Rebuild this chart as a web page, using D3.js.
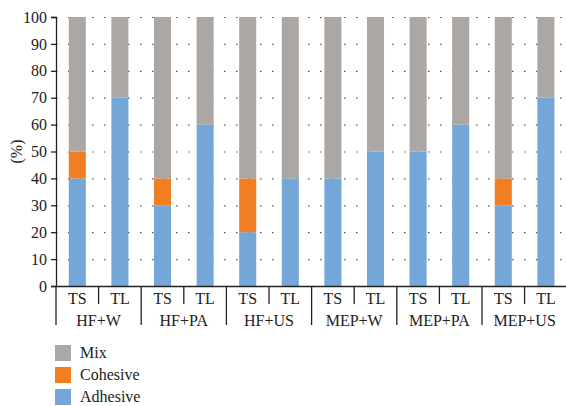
<!DOCTYPE html>
<html><head><meta charset="utf-8">
<script src="https://cdn.jsdelivr.net/npm/d3@7"></script>
<style>body{margin:0;background:#fff}svg{display:block}text{font-family:"Liberation Serif","DejaVu Serif",serif;fill:#222}</style>
</head><body><svg id="c" width="566" height="406"></svg>
<script>
const groups = ["HF+W","HF+PA","HF+US","MEP+W","MEP+PA","MEP+US"];
const subs = ["TS","TL"];
const adhesive = [40,70,30,60,20,40,40,50,50,60,30,70];
const cohesive = [10,0,10,0,20,0,0,0,0,0,10,0];
const mix      = [50,30,60,40,60,60,60,50,50,40,60,30];
const seriesNames = ["Adhesive","Cohesive","Mix"];
const colors = {Adhesive:"#74a6d7",Cohesive:"#ef7f22",Mix:"#aba7a5"};
const yTicks = [0,10,20,30,40,50,60,70,80,90,100];

const svg = d3.select("#c");
const m = {l:56, r:566, t:17, b:286};
const cats = [];
groups.forEach(g=>subs.forEach(s=>cats.push(g+"|"+s)));
const data = cats.map((c,i)=>({cat:c, Adhesive:adhesive[i], Cohesive:cohesive[i], Mix:mix[i]}));
const x = d3.scaleBand().domain(cats).range([m.l, m.l+12*42.6]).paddingInner(0.6).paddingOuter(0.3);
const y = d3.scaleLinear().domain([0,100]).range([m.b, m.t]);
const FS = 16;

// grid
svg.append("g").selectAll("line").data(yTicks.filter(d=>d>0)).join("line")
  .attr("x1",m.l).attr("x2",m.r).attr("y1",d=>y(d)+0.5).attr("y2",d=>y(d)+0.5)
  .attr("stroke","#555").attr("stroke-width",1.2).attr("stroke-dasharray","1.5,10.5");

const stack = d3.stack().keys(seriesNames)(data);
svg.append("g").selectAll("g").data(stack).join("g").attr("fill",d=>colors[d.key])
  .selectAll("rect").data(d=>d).join("rect")
  .attr("x",d=>x(d.data.cat)).attr("width",x.bandwidth())
  .attr("y",d=>y(d[1])).attr("height",d=>y(d[0])-y(d[1]));

// y axis
const ya = svg.append("g").attr("transform",`translate(${m.l},0)`)
  .call(d3.axisLeft(y).tickValues(yTicks).tickSize(5).tickPadding(4));
ya.select(".domain").attr("stroke","#222").attr("stroke-width",1.3);
ya.selectAll(".tick line").attr("stroke","#222").attr("stroke-width",1.3);
ya.selectAll("text").attr("font-size",FS).attr("font-family","Liberation Serif").attr("fill","#222");

svg.append("text").attr("transform",`translate(22,${(m.t+m.b)/2}) rotate(-90)`)
  .attr("text-anchor","middle").attr("font-size",FS).text("(%)");

// x axis baseline
svg.append("line").attr("x1",m.l).attr("x2",m.r).attr("y1",m.b+0.5).attr("y2",m.b+0.5)
  .attr("stroke","#222").attr("stroke-width",1.3);

cats.forEach((c,i)=>{
  const left = m.l + i*42.6;
  const isGroup = i%2===0;
  svg.append("line").attr("x1",left).attr("x2",left).attr("y1",m.b)
    .attr("y2", isGroup?325:304).attr("stroke","#222").attr("stroke-width",1.3);
  svg.append("text").attr("x",x(c)+x.bandwidth()/2).attr("y",304)
    .attr("text-anchor","middle").attr("font-size",FS).text(c.split("|")[1]);
});
groups.forEach((g,i)=>{
  svg.append("text").attr("x",m.l + (i*2+1)*42.6).attr("y",326)
    .attr("text-anchor","middle").attr("font-size",FS).text(g);
});

// legend
const leg = ["Mix","Cohesive","Adhesive"];
leg.forEach((k,i)=>{
  const yy = 353 + i*22;
  svg.append("rect").attr("x",55).attr("y",yy-8).attr("width",16).attr("height",16).attr("fill",colors[k]);
  svg.append("text").attr("x",80).attr("y",yy+5).attr("font-size",FS).text(k);
});
</script></body></html>
